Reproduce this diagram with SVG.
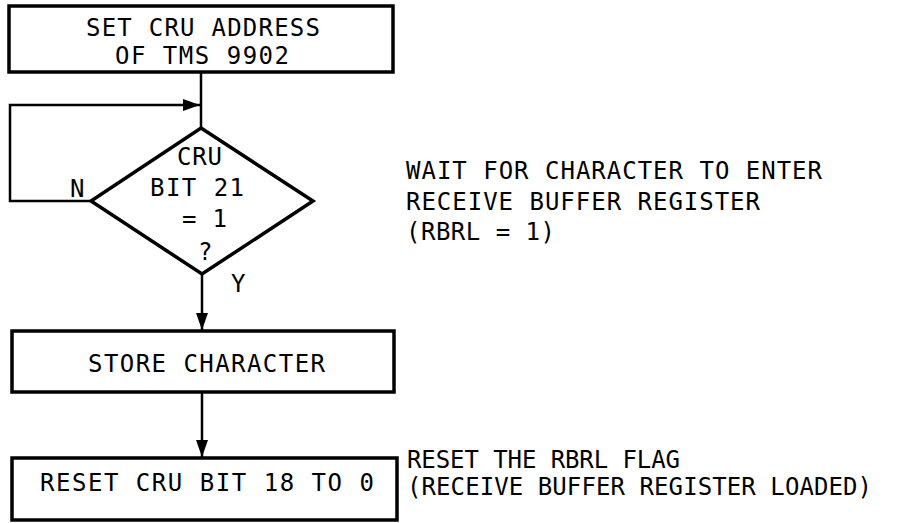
<svg xmlns="http://www.w3.org/2000/svg" width="920" height="523" viewBox="0 0 920 523">
  <style>
    .box { fill: #fff; stroke: #000; stroke-width: 3.5; }
    .edge { fill: none; stroke: #000; stroke-width: 2.5; }
    text { font-family: "DejaVu Sans Mono", "Liberation Mono", monospace; font-size: 24px; fill: #000; }
  </style>
  <defs>
    <marker id="arrow" markerUnits="userSpaceOnUse" markerWidth="18" markerHeight="12" refX="17" refY="6" orient="auto">
      <path d="M0,0 L17,6 L0,12 Z" fill="#000"/>
    </marker>
  </defs>
  <rect width="920" height="523" fill="#fff"/>

  <g id="connectors">
    <path class="edge" d="M201,72 V128"/>
    <path class="edge" d="M91,201 H10 V105 H200" marker-end="url(#arrow)"/>
    <path class="edge" d="M202,274 V330" marker-end="url(#arrow)"/>
    <path class="edge" d="M202,392 V457" marker-end="url(#arrow)"/>
  </g>

  <g id="set-address">
    <rect class="box" x="9" y="6" width="384" height="66"/>
    <text x="86" y="36" textLength="234" lengthAdjust="spacing">SET CRU ADDRESS</text>
    <text x="115" y="64" textLength="174" lengthAdjust="spacing">OF TMS 9902</text>
  </g>

  <g id="test-bit">
    <polygon class="box" points="201,128 313,201 202,274 91,201"/>
    <text x="177" y="165" textLength="45" lengthAdjust="spacing">CRU</text>
    <text x="150" y="196" textLength="94" lengthAdjust="spacing">BIT 21</text>
    <text x="182" y="227" textLength="45" lengthAdjust="spacing">= 1</text>
    <text x="198" y="260">?</text>
    <text x="70" y="197">N</text>
    <text x="231" y="292">Y</text>
  </g>

  <g id="store-char">
    <rect class="box" x="12" y="331" width="382" height="61"/>
    <text x="88" y="372" textLength="237" lengthAdjust="spacing">STORE CHARACTER</text>
  </g>

  <g id="reset-bit">
    <rect class="box" x="12" y="458" width="385" height="62"/>
    <text x="40" y="491" textLength="334" lengthAdjust="spacing">RESET CRU BIT 18 TO 0</text>
  </g>

  <g id="notes">
    <text x="406" y="179" textLength="416" lengthAdjust="spacing">WAIT FOR CHARACTER TO ENTER</text>
    <text x="406" y="210" textLength="354" lengthAdjust="spacing">RECEIVE BUFFER REGISTER</text>
    <text x="406" y="240" textLength="149" lengthAdjust="spacing">(RBRL = 1)</text>
    <text x="407" y="468" textLength="273" lengthAdjust="spacing">RESET THE RBRL FLAG</text>
    <text x="407" y="495" textLength="465" lengthAdjust="spacing">(RECEIVE BUFFER REGISTER LOADED)</text>
  </g>
</svg>
